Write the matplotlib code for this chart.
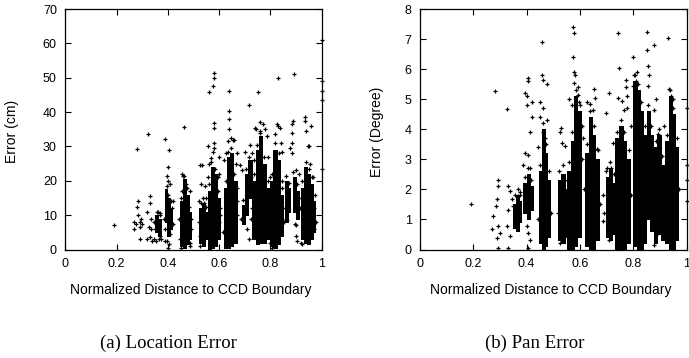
import matplotlib
matplotlib.use('Agg')
import matplotlib.pyplot as plt

# ~~~~~~~~~~~~~~~~~~~~~~~~~~~~~~~~~~~~~~~~~~~~~~
# Values
# dense cores of the point clouds: [x_lo, x_hi, y_lo, y_hi]
loc_bands = [
    [0.352, 0.362, 5, 10], [0.362, 0.374, 4, 9],
    [0.388, 0.398, 8, 17.5], [0.398, 0.410, 4, 15], [0.410, 0.418, 6, 12],
    [0.447, 0.458, 1, 14], [0.458, 0.470, 0.5, 20.5], [0.470, 0.482, 1.5, 16], [0.482, 0.490, 3, 11],
    [0.521, 0.532, 2, 12], [0.532, 0.545, 1, 13.5], [0.545, 0.556, 3, 11],
    [0.556, 0.568, 0, 17], [0.568, 0.580, 0.5, 24], [0.580, 0.592, 1, 22], [0.592, 0.604, 3, 15],
    [0.618, 0.630, 0.5, 18], [0.630, 0.642, 0.3, 27], [0.642, 0.655, 1, 28], [0.655, 0.668, 2, 20],
    [0.688, 0.700, 7.5, 13], [0.700, 0.712, 10, 22], [0.712, 0.728, 15, 26],
    [0.728, 0.742, 3, 20], [0.742, 0.755, 1.5, 29], [0.755, 0.768, 2, 33], [0.768, 0.782, 2, 25],
    [0.782, 0.796, 3, 18],
    [0.800, 0.812, 1, 20], [0.812, 0.825, 0.5, 29], [0.825, 0.838, 1.5, 26], [0.838, 0.850, 4, 16],
    [0.857, 0.868, 8, 20], [0.868, 0.878, 11, 18],
    [0.887, 0.900, 11, 21], [0.900, 0.913, 9, 17],
    [0.918, 0.930, 3, 18], [0.930, 0.942, 2, 24], [0.942, 0.955, 1.5, 22], [0.955, 0.966, 3, 19],
    [0.966, 0.975, 5, 14],
]

loc_x = [0.19, 0.27, 0.27, 0.28, 0.285, 0.285, 0.29, 0.29, 0.30, 0.29, 0.28, 0.275, 0.295,
         0.324, 0.32, 0.325, 0.33, 0.33, 0.33, 0.335, 0.34, 0.32, 0.345, 0.335, 0.345,
         0.36, 0.365, 0.37, 0.375, 0.355, 0.37,
         0.389, 0.405, 0.40, 0.395, 0.40, 0.41, 0.405, 0.40, 0.415, 0.42, 0.385, 0.42, 0.41, 0.39,
         0.463, 0.455, 0.46, 0.47, 0.485, 0.445, 0.49, 0.485, 0.45,
         0.532, 0.525, 0.53, 0.52, 0.525, 0.525, 0.55, 0.545, 0.54,
         0.562, 0.58, 0.58, 0.575, 0.581, 0.581, 0.582, 0.58, 0.558, 0.575, 0.568, 0.60, 0.60,
         0.595, 0.602, 0.60, 0.56, 0.555,
         0.64, 0.64, 0.638, 0.64, 0.635, 0.645, 0.655, 0.66, 0.67, 0.665, 0.67, 0.668, 0.625, 0.62,
         0.717, 0.70, 0.68, 0.69, 0.72, 0.70, 0.71, 0.715, 0.725,
         0.75, 0.74, 0.745, 0.76, 0.77, 0.78, 0.785, 0.79, 0.73, 0.735, 0.76, 0.80, 0.795,
         0.818, 0.825, 0.83, 0.837, 0.828, 0.84, 0.845, 0.845, 0.80, 0.805, 0.85,
         0.892, 0.885, 0.89, 0.885, 0.885, 0.885, 0.875, 0.86, 0.865, 0.895, 0.90, 0.90, 0.91,
         0.91, 0.90, 0.905,
         0.935, 0.935, 0.94, 0.945, 0.95, 0.96, 0.955, 0.965, 0.97, 0.97, 0.92, 0.925,
         1.0, 1.0, 1.0, 1.0, 1.0,
         # fringe of the dense clouds
         0.395, 0.402, 0.412, 0.388, 0.398, 0.35, 0.358, 0.37,
         0.45, 0.456, 0.462, 0.474, 0.483, 0.49, 0.446, 0.488,
         0.528, 0.538, 0.55, 0.52, 0.556,
         0.562, 0.57, 0.585, 0.596, 0.605, 0.552,
         0.625, 0.633, 0.648, 0.66, 0.67, 0.615,
         0.694, 0.704, 0.718, 0.725, 0.686,
         0.735, 0.748, 0.76, 0.775, 0.79, 0.798, 0.728,
         0.805, 0.818, 0.832, 0.845, 0.852,
         0.862, 0.873, 0.89, 0.905, 0.915,
         0.925, 0.937, 0.95, 0.962, 0.972, 0.977]
loc_y = [7.0, 8, 6, 12.5, 14, 10, 8, 6.5, 7.5, 3, 29.2, 7.5, 9,
         33.7, 11, 6.5, 15.5, 13.5, 3.5, 6, 2.5, 3, 8, 9, 3,
         11, 3, 4, 3, 2.5, 10,
         32.3, 29, 24, 21.5, 20, 19, 1.5, 0.5, 12, 14, 9, 7.5, 4.5, 2.5,
         35.8, 22, 21.5, 19, 17, 9, 6, 1, 0.5,
         24.5, 24.5, 19, 14, 4, 1, 15, 18.5, 13.5,
         45.9, 51.5, 50, 47.5, 36.7, 35.5, 31, 29.5, 30.1, 28.3, 26.6, 27, 22,
         21, 12, 8, 25, 21,
         46, 40.3, 38, 35.2, 31.5, 32.5, 32, 32, 28, 25, 18, 14, 28, 26,
         42.2, 28.5, 24.5, 23, 30.5, 11, 6, 3, 9,
         45.8, 35.5, 35, 37, 36.5, 35, 33, 27, 28, 26, 34, 21, 13,
         33.5, 36.5, 36, 35.5, 49.8, 31, 28.5, 20, 2, 0.5, 12,
         51.2, 36.5, 37.5, 34, 31, 28, 29.5, 9, 8.5, 7.5, 7, 23, 22,
         15, 4, 2.5,
         38.5, 37.5, 34.5, 30, 30, 36, 25, 21, 12, 6, 2, 1.5,
         61, 49, 46, 43.5, 23.5,
         18.5, 16, 14, 6, 2.5, 6, 11, 10.5,
         15, 17, 21.5, 18, 12.5, 9, 3, 2,
         13.5, 15, 12.5, 8, 6,
         19, 25.5, 23.5, 17, 10, 10,
         20, 28.5, 29.5, 22, 10, 5,
         14.5, 23.5, 27, 21, 9,
         22, 30.5, 34.5, 27, 20, 8, 12,
         22, 31, 28, 18, 8,
         21.5, 19.5, 22.5, 19, 12,
         20, 25.5, 23.5, 21, 16, 8]

pan_bands = [
    [0.350, 0.360, 0.7, 1.5], [0.360, 0.370, 0.6, 1.8], [0.370, 0.378, 0.9, 1.6],
    [0.388, 0.400, 1.2, 2.2], [0.400, 0.412, 1.0, 2.5], [0.412, 0.422, 1.3, 2.1],
    [0.446, 0.456, 0.2, 2.6], [0.456, 0.468, 0.0, 4.0], [0.468, 0.478, 0.1, 3.2], [0.478, 0.487, 0.4, 2.3],
    [0.519, 0.530, 0.3, 2.3], [0.530, 0.543, 0.2, 2.5], [0.543, 0.555, 0.4, 2.0],
    [0.553, 0.565, 0.0, 2.6], [0.565, 0.577, 0.0, 3.6], [0.577, 0.590, 0.1, 5.1], [0.590, 0.604, 0.4, 4.6],
    [0.619, 0.632, 0.1, 3.2], [0.632, 0.645, 0.0, 4.4], [0.645, 0.658, 0.0, 3.8], [0.658, 0.672, 0.3, 3.0],
    [0.696, 0.705, 0.4, 2.4], [0.710, 0.720, 0.3, 2.7], [0.725, 0.734, 0.5, 2.2],
    [0.733, 0.746, 0.0, 3.7], [0.746, 0.760, 0.0, 4.1], [0.760, 0.774, 0.0, 3.6], [0.774, 0.788, 0.2, 3.0],
    [0.800, 0.812, 0.1, 5.6], [0.812, 0.824, 0.0, 5.3], [0.824, 0.836, 0.0, 4.6], [0.836, 0.848, 0.2, 3.8],
    [0.850, 0.862, 1.0, 4.6], [0.862, 0.874, 0.6, 3.8],
    [0.878, 0.890, 0.2, 3.4], [0.890, 0.902, 0.5, 3.8], [0.902, 0.914, 0.3, 2.8],
    [0.920, 0.932, 0.2, 3.6], [0.932, 0.944, 0.0, 5.1], [0.944, 0.956, 0.0, 4.5], [0.956, 0.968, 0.3, 3.4],
]

pan_x = [0.19, 0.28, 0.269, 0.275, 0.294, 0.294, 0.288, 0.294, 0.30, 0.288, 0.294, 0.285,
         0.325, 0.331, 0.337, 0.331, 0.325, 0.337, 0.344, 0.331, 0.35, 0.369, 0.375,
         0.394, 0.40, 0.406, 0.406, 0.40, 0.419, 0.419, 0.412, 0.394, 0.406, 0.412, 0.387,
         0.40, 0.406, 0.406, 0.412,
         0.456, 0.456, 0.46, 0.477, 0.45, 0.462, 0.477, 0.45, 0.46, 0.469, 0.444,
         0.528, 0.525, 0.531, 0.544, 0.537, 0.525,
         0.575, 0.579, 0.572, 0.579, 0.581, 0.579, 0.594, 0.594, 0.56, 0.569, 0.60, 0.606,
         0.625, 0.637, 0.652, 0.656, 0.65, 0.644, 0.61, 0.662,
         0.686, 0.702, 0.717, 0.71, 0.696, 0.725, 0.731, 0.686, 0.71,
         0.744, 0.747, 0.741, 0.756, 0.772, 0.772, 0.775, 0.778, 0.766, 0.791,
         0.80, 0.802, 0.809, 0.815, 0.797,
         0.85, 0.85, 0.854, 0.857, 0.854, 0.879, 0.885, 0.879, 0.891, 0.891, 0.879,
         0.929, 0.932, 0.941, 0.947, 0.916, 0.947, 0.956,
         1.0, 1.0, 1.0, 1.0,
         # fringe of the dense clouds
         0.355, 0.366, 0.375, 0.392, 0.405, 0.418,
         0.45, 0.46, 0.472, 0.482, 0.49, 0.444,
         0.522, 0.535, 0.55, 0.516,
         0.56, 0.57, 0.584, 0.598, 0.607, 0.55,
         0.625, 0.638, 0.652, 0.668, 0.676, 0.615,
         0.698, 0.712, 0.728, 0.69, 0.707, 0.721,
         0.738, 0.752, 0.766, 0.782, 0.79, 0.73,
         0.805, 0.818, 0.83, 0.842,
         0.856, 0.868, 0.884, 0.896, 0.908, 0.916,
         0.926, 0.938, 0.95, 0.962, 0.97]
pan_y = [1.52, 5.28, 0.67, 1.1, 2.1, 2.3, 1.67, 0.78, 0.56, 0.39, 0.05, 1.44,
         4.67, 2.1, 1.95, 1.33, 0.78, 0.44, 1.67, 0.05, 1.44, 1.78, 1.9,
         5.2, 5.1, 5.7, 5.6, 4.8, 4.9, 4.4, 3.9, 3.2, 3.15, 2.7, 2.8,
         0.78, 0.56, 0.05, 0.33,
         6.9, 5.8, 5.65, 5.5, 4.9, 4.7, 4.3, 4.4, 3.9, 3.7, 3.4,
         4.05, 3.9, 3.55, 3.45, 2.3, 0.2,
         7.4, 7.2, 6.4, 5.9, 5.8, 5.55, 5.4, 5.15, 5.0, 4.8, 4.8, 4.1,
         4.9, 4.85, 5.35, 5.05, 4.65, 4.1, 3.7, 3.35,
         1.8, 2.7, 2.7, 5.2, 4.55, 3.55, 1.1, 0.95, 0.33,
         7.2, 6.05, 5.05, 4.95, 5.65, 5.4, 5.1, 4.7, 4.65, 4.1,
         6.4, 5.8, 5.6, 5.9, 5.45,
         7.25, 6.65, 6.1, 5.8, 5.45, 6.8, 5.0, 4.65, 3.85, 0.55, 0.15,
         7.05, 5.35, 5.1, 5.0, 4.1, 3.45, 1.9,
         4.7, 2.8, 2.3, 1.6,
         1.8, 2.0, 1.8, 2.4, 2.7, 2.3,
         2.8, 4.2, 3.5, 2.6, 1.2, 1.0,
         2.6, 2.8, 2.3, 1.2,
         2.9, 3.9, 5.3, 4.9, 3.0, 1.5,
         3.5, 4.6, 4.1, 3.3, 1.5, 2.0,
         2.6, 2.9, 2.5, 1.2, 1.5, 1.0,
         3.9, 4.3, 3.9, 3.3, 1.8, 2.0,
         5.8, 5.5, 4.9, 4.1,
         4.8, 4.1, 3.6, 4.0, 3.1, 1.8,
         3.8, 5.3, 4.7, 3.7, 2.0]

x_ticks = [0, 0.2, 0.4, 0.6, 0.8, 1]
x_labels = ['0', '0.2', '0.4', '0.6', '0.8', '1']
loc_yticks = [0, 10, 20, 30, 40, 50, 60, 70]
pan_yticks = [0, 1, 2, 3, 4, 5, 6, 7, 8]

sans = ['Liberation Sans', 'DejaVu Sans']
serif = ['Liberation Serif', 'DejaVu Serif']

#~~~~~~~~~~~~~~~~~~~~~~~~~~~~~~~~~~~~~~~~~~~~~~#
def draw_panel(ax, bands, xs, ys, yticks, ylabel, ylab_x):
    # dense part of each cloud, then the individual points
    for b in bands:
        ax.bar(b[0], b[3] - b[2], width=b[1] - b[0], bottom=b[2],
               align='edge', color='black', edgecolor='black', linewidth=0.6,
               antialiased=False)
    ax.plot(xs, ys, '+', color='black', markersize=3.5, mew=0.9, clip_on=False)

    ax.set_xlim(0, 1)
    ax.set_ylim(yticks[0], yticks[-1])
    ax.set_xticks(x_ticks)
    ax.set_xticklabels(x_labels)
    ax.set_yticks(yticks)
    ax.set_yticklabels([str(t) for t in yticks])
    ax.tick_params(direction='in', top=True, right=True, length=4,
                   width=0.8, labelsize=9, pad=6)
    for lab in ax.get_xticklabels() + ax.get_yticklabels():
        lab.set_family(sans)
    for s in ax.spines.values():
        s.set_linewidth(0.9)

    ax.set_xlabel('Normalized Distance to CCD Boundary', fontsize=10, family=sans)
    ax.xaxis.set_label_coords(0.49, -0.14)
    ax.set_ylabel(ylabel, fontsize=10, family=sans)
    ax.yaxis.set_label_coords(ylab_x, 0.49)


fig = plt.figure(figsize=(6.89, 3.58), dpi=100)
ax1 = fig.add_axes([65.2 / 689, 108.5 / 358, 256.5 / 689, 240.5 / 358])
ax2 = fig.add_axes([420 / 689, 108.5 / 358, 266.7 / 689, 240.5 / 358])

draw_panel(ax1, loc_bands, loc_x, loc_y, loc_yticks, 'Error (cm)', -0.18)
draw_panel(ax2, pan_bands, pan_x, pan_y, pan_yticks, 'Error (Degree)', -0.135)

fig.text(168 / 689, 1 - 343 / 358, '(a) Location Error', ha='center', va='center',
         fontsize=13.5, family=serif)
fig.text(535 / 689, 1 - 343 / 358, '(b) Pan Error', ha='center', va='center',
         fontsize=13.5, family=serif)

fig.savefig('out.png', dpi=100)
